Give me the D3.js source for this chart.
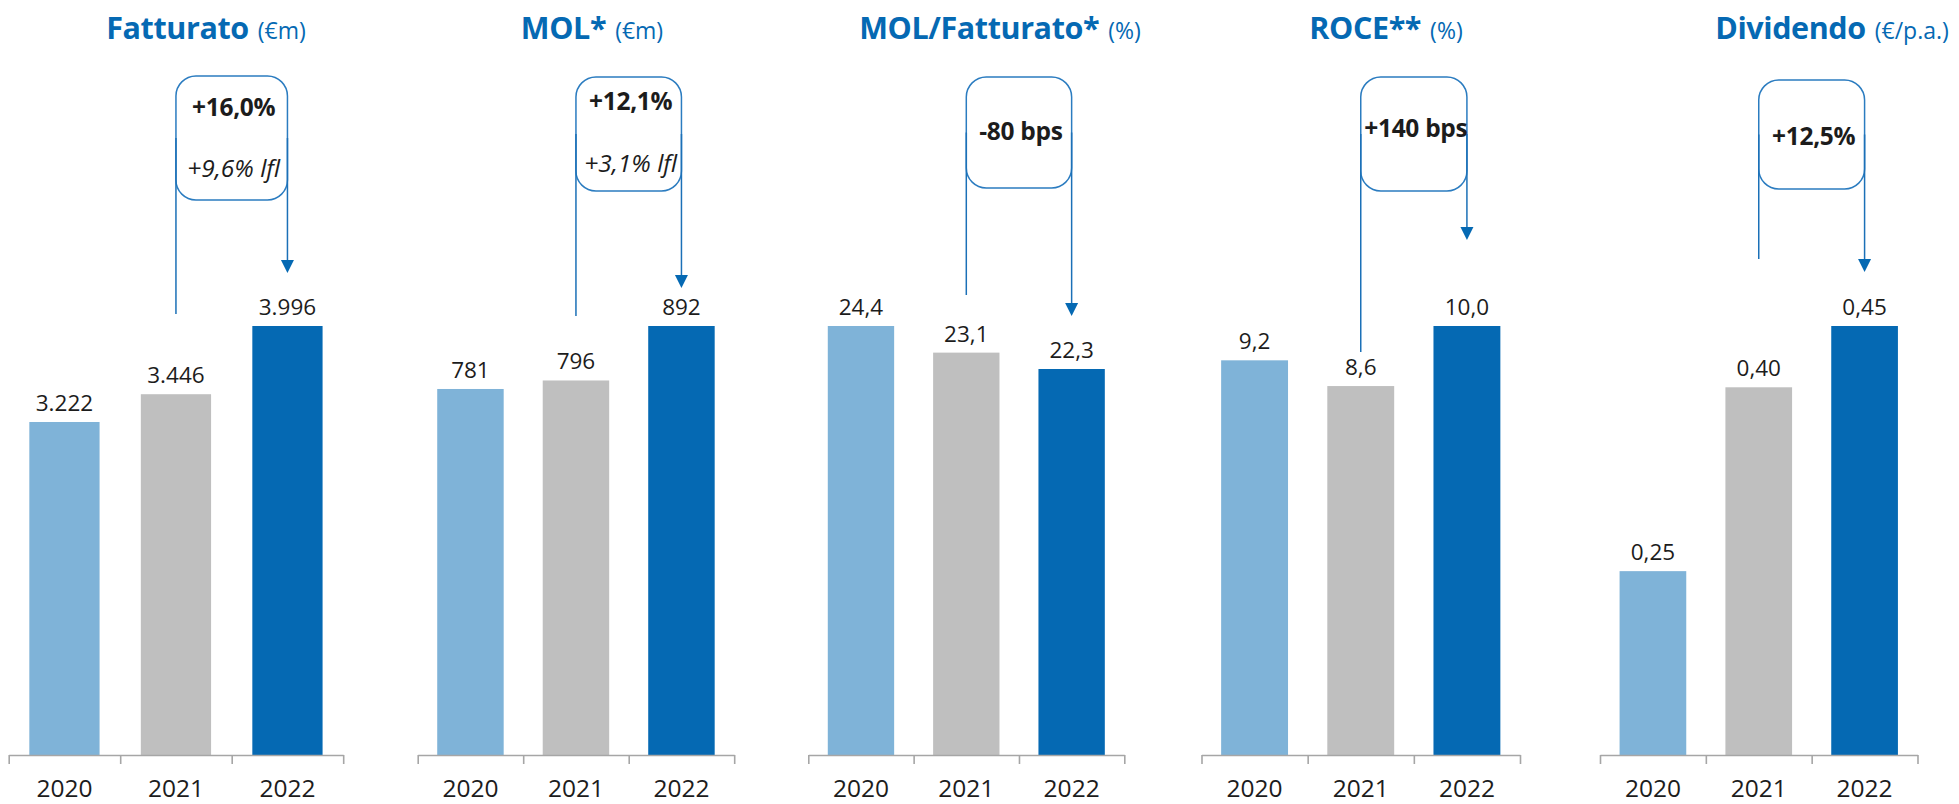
<!DOCTYPE html>
<html>
<head>
<meta charset="utf-8">
<script src="https://cdn.jsdelivr.net/npm/d3@7"></script>
<style>
  html, body { margin: 0; padding: 0; background: #ffffff; }
  svg { display: block; font-family: "Open Sans", "Noto Sans", sans-serif; }
</style>
</head>
<body>
<svg id="chart" width="1959" height="804"></svg>
<script>
// ---------------- DATA ----------------
const categories = ["2020", "2021", "2022"];
const panelTitles = ["Fatturato", "MOL*", "MOL/Fatturato*", "ROCE**", "Dividendo"];
const panelUnits = ["(€m)", "(€m)", "(%)", "(%)", "(€/p.a.)"];
const fatturato = [3222, 3446, 3996];
const mol = [781, 796, 892];
const molSuFatturato = [24.4, 23.1, 22.3];
const roce = [9.2, 8.6, 10.0];
const dividendo = [0.25, 0.40, 0.45];
const growthMain = ["+16,0%", "+12,1%", "-80 bps", "+140 bps", "+12,5%"];
const growthLfl = ["+9,6% lfl", "+3,1% lfl", null, null, null];
const valueFormats = [",.0f", ",.0f", ".1f", ".1f", ".2f"];
// lower bound of each panel's value axis (axes are not zero-based in the original)
const domainMin = [537, 136, 3.45, 0, 0.1];

// ---------------- LAYOUT ----------------
const series = [fatturato, mol, molSuFatturato, roce, dividendo];
const panelX0 = [8.7, 417.7, 808.3, 1201.5, 1600];
const panelW = [334.5, 316.5, 316, 318.5, 317.5];
const titleCx = [206, 592, 1000, 1386, 1832];
const baseY = 755, topY = 326;
const annot = [
  { boxTop: 76, boxBottom: 200, leftEnd: 314, tip: 273, mainY: 116, lflY: 177 },
  { boxTop: 77, boxBottom: 191, leftEnd: 316, tip: 288, mainY: 110, lflY: 172 },
  { boxTop: 77, boxBottom: 188, leftEnd: 295, tip: 316, mainY: 140 },
  { boxTop: 77, boxBottom: 191, leftEnd: 352, tip: 240, mainY: 137 },
  { boxTop: 80, boxBottom: 189, leftEnd: 259, tip: 272, mainY: 145 }
];
const barColors = ["#7fb3d8", "#bfbfbf", "#0569b3"];
const blue = "#0569b3";
const textColor = "#1c1c1c";

const itLocale = d3.formatLocale({ decimal: ",", thousands: ".", grouping: [3], currency: ["€", ""] });

const svg = d3.select("#chart");

series.forEach((values, p) => {
  const g = svg.append("g");
  const x = d3.scaleBand().domain(categories)
    .range([panelX0[p], panelX0[p] + panelW[p]])
    .paddingInner(0.37).paddingOuter(0.185);
  const y = d3.scaleLinear().domain([domainMin[p], d3.max(values)]).range([baseY, topY]);
  const fmt = itLocale.format(valueFormats[p]);

  // title
  const t = g.append("text")
    .attr("x", titleCx[p]).attr("y", 39)
    .attr("text-anchor", "middle")
    .attr("fill", blue);
  t.append("tspan").attr("font-weight", 700).attr("font-size", 30.5)
    .attr("letter-spacing", -0.4).text(panelTitles[p]);
  t.append("tspan").attr("font-size", 23).attr("dx", 9).text(panelUnits[p]);

  // bars
  g.selectAll("rect.bar").data(values).join("rect")
    .attr("class", "bar")
    .attr("x", (d, i) => x(categories[i]))
    .attr("width", x.bandwidth())
    .attr("y", d => y(d))
    .attr("height", d => baseY - y(d))
    .attr("fill", (d, i) => barColors[i]);

  // value labels
  g.selectAll("text.val").data(values).join("text")
    .attr("class", "val")
    .attr("x", (d, i) => x(categories[i]) + x.bandwidth() / 2)
    .attr("y", d => y(d) - 11)
    .attr("text-anchor", "middle")
    .attr("font-size", 22.5)
    .attr("fill", textColor)
    .text(d => fmt(d));

  // axis with ticks at band edges
  const edge = d3.scaleLinear().domain([0, categories.length]).range(x.range());
  const axis = d3.axisBottom(edge)
    .tickValues(d3.range(categories.length + 1))
    .tickSize(9).tickSizeOuter(0).tickFormat("");
  const ag = g.append("g").attr("transform", `translate(0,${baseY})`).call(axis);
  ag.select(".domain").attr("stroke", "#a6a6a6").attr("stroke-width", 1.6);
  ag.selectAll(".tick line").attr("stroke", "#a6a6a6").attr("stroke-width", 1.6);

  // year labels
  g.selectAll("text.year").data(categories).join("text")
    .attr("class", "year")
    .attr("x", d => x(d) + x.bandwidth() / 2)
    .attr("y", 797)
    .attr("text-anchor", "middle")
    .attr("font-size", 24.5)
    .attr("fill", textColor)
    .text(d => d);

  // annotation
  const a = annot[p];
  const xl = x(categories[1]) + x.bandwidth() / 2;
  const xr = x(categories[2]) + x.bandwidth() / 2;
  const mid = (a.boxTop + a.boxBottom) / 2;
  g.append("rect")
    .attr("x", xl).attr("y", a.boxTop)
    .attr("width", xr - xl).attr("height", a.boxBottom - a.boxTop)
    .attr("rx", 20).attr("ry", 20)
    .attr("fill", "none").attr("stroke", "#2b7cc0").attr("stroke-width", 1.5);
  g.append("line")
    .attr("x1", xl).attr("x2", xl).attr("y1", mid).attr("y2", a.leftEnd)
    .attr("stroke", "#1b70b7").attr("stroke-width", 1.5);
  g.append("line")
    .attr("x1", xr).attr("x2", xr).attr("y1", mid).attr("y2", a.tip - 12)
    .attr("stroke", "#1b70b7").attr("stroke-width", 1.5);
  g.append("path")
    .attr("d", `M${xr - 6.5},${a.tip - 13}L${xr + 6.5},${a.tip - 13}L${xr},${a.tip}Z`)
    .attr("fill", blue);
  const cx = (xl + xr) / 2 + 2;
  g.append("text")
    .attr("x", cx).attr("y", a.mainY)
    .attr("text-anchor", "middle")
    .attr("font-size", 24.5).attr("font-weight", 700)
    .attr("letter-spacing", -0.3)
    .attr("fill", textColor)
    .text(growthMain[p]);
  if (growthLfl[p]) {
    g.append("text")
      .attr("x", cx).attr("y", a.lflY)
      .attr("text-anchor", "middle")
      .attr("font-size", 24.5).attr("font-style", "italic")
      .attr("fill", textColor)
      .text(growthLfl[p]);
  }
});
</script>
</body>
</html>
